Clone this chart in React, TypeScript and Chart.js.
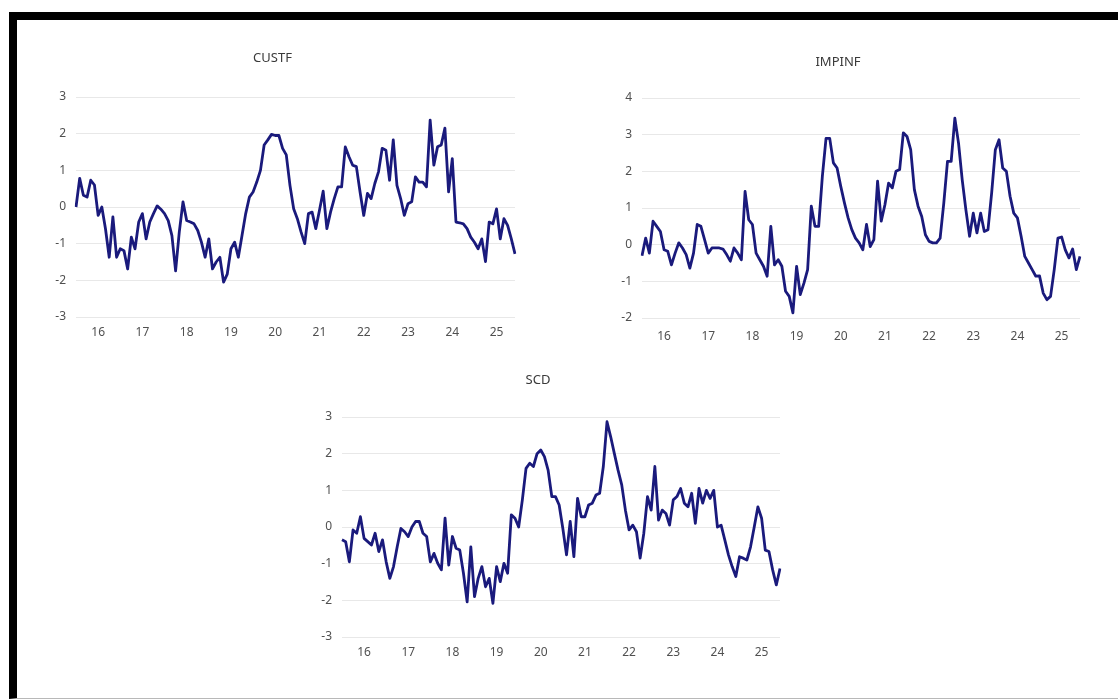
import React, { useEffect, useRef } from "react";
import { Chart, registerables } from "chart.js";

Chart.register(...registerables);

// Monthly observations, Jan 2016 .. Dec 2025
const YEARS = ["2016", "2017", "2018", "2019", "2020", "2021", "2022", "2023", "2024", "2025"];
const MONTHS = ["01", "02", "03", "04", "05", "06", "07", "08", "09", "10", "11", "12"];
const monthLabels: string[] = YEARS.flatMap((y) => MONTHS.map((m) => `${y}-${m}`));

const custf = [
  0.0, 0.78, 0.32, 0.27, 0.73, 0.6, -0.23, 0.0, -0.6, -1.37, -0.27, -1.37,
  -1.14, -1.19, -1.69, -0.82, -1.14, -0.41, -0.18, -0.87, -0.41, -0.18, 0.03, -0.06,
  -0.18, -0.37, -0.78, -1.74, -0.68, 0.14, -0.37, -0.41, -0.46, -0.64, -0.96, -1.37,
  -0.87, -1.69, -1.5, -1.37, -2.05, -1.83, -1.14, -0.96, -1.37, -0.78, -0.18, 0.27,
  0.41, 0.68, 1.0, 1.69, 1.83, 1.98, 1.95, 1.95, 1.6, 1.42, 0.59, -0.05,
  -0.32, -0.68, -1.0, -0.18, -0.14, -0.59, -0.09, 0.43, -0.59, -0.14, 0.23, 0.55,
  0.55, 1.64, 1.37, 1.14, 1.1, 0.41, -0.23, 0.37, 0.23, 0.64, 0.96, 1.6,
  1.55, 0.73, 1.83, 0.59, 0.23, -0.23, 0.09, 0.14, 0.82, 0.68, 0.68, 0.55,
  2.37, 1.14, 1.64, 1.69, 2.15, 0.41, 1.32, -0.41, -0.43, -0.46, -0.59, -0.82,
  -0.96, -1.14, -0.87, -1.49, -0.41, -0.46, -0.05, -0.87, -0.32, -0.5, -0.87, -1.28,
];

const impinf = [
  -0.3, 0.18, -0.23, 0.64, 0.5, 0.36, -0.14, -0.18, -0.55, -0.23, 0.05, -0.09,
  -0.27, -0.64, -0.23, 0.55, 0.5, 0.14, -0.23, -0.09, -0.09, -0.09, -0.12, -0.27,
  -0.45, -0.09, -0.23, -0.41, 1.45, 0.68, 0.55, -0.23, -0.41, -0.59, -0.86, 0.5,
  -0.55, -0.41, -0.59, -1.27, -1.41, -1.86, -0.59, -1.36, -1.05, -0.68, 1.05, 0.5,
  0.5, 1.86, 2.9, 2.9, 2.23, 2.09, 1.59, 1.14, 0.73, 0.41, 0.18, 0.05,
  -0.14, 0.55, -0.05, 0.14, 1.73, 0.64, 1.09, 1.68, 1.55, 2.0, 2.05, 3.05,
  2.95, 2.59, 1.5, 1.05, 0.77, 0.27, 0.09, 0.05, 0.05, 0.18, 1.14, 2.27,
  2.27, 3.45, 2.77, 1.77, 0.95, 0.23, 0.86, 0.32, 0.86, 0.36, 0.41, 1.41,
  2.59, 2.86, 2.09, 2.0, 1.32, 0.86, 0.73, 0.23, -0.32, -0.5, -0.68, -0.86,
  -0.85, -1.32, -1.5, -1.41, -0.68, 0.18, 0.21, -0.14, -0.36, -0.12, -0.68, -0.32,
];

const scd = [
  -0.35, -0.4, -0.95, -0.08, -0.17, 0.28, -0.31, -0.4, -0.49, -0.17, -0.67, -0.35,
  -0.95, -1.4, -1.08, -0.54, -0.04, -0.13, -0.26, 0.0, 0.15, 0.15, -0.17, -0.26,
  -0.95, -0.72, -0.99, -1.17, 0.24, -1.04, -0.26, -0.58, -0.63, -1.26, -2.04, -0.54,
  -1.9, -1.4, -1.08, -1.63, -1.4, -2.08, -1.08, -1.49, -0.99, -1.26, 0.33, 0.24,
  0.0, 0.74, 1.6, 1.74, 1.65, 2.0, 2.1, 1.92, 1.55, 0.83, 0.83, 0.6,
  -0.04, -0.76, 0.15, -0.81, 0.78, 0.28, 0.28, 0.6, 0.65, 0.87, 0.92, 1.65,
  2.87, 2.46, 2.0, 1.55, 1.15, 0.46, -0.08, 0.05, -0.13, -0.85, -0.17, 0.83,
  0.46, 1.65, 0.19, 0.46, 0.37, 0.05, 0.74, 0.83, 1.05, 0.65, 0.55, 0.92,
  0.1, 1.05, 0.65, 1.0, 0.78, 1.0, 0.0, 0.05, -0.35, -0.76, -1.08, -1.35,
  -0.81, -0.85, -0.9, -0.54, 0.0, 0.55, 0.24, -0.63, -0.67, -1.17, -1.58, -1.13,
];

const LINE_COLOR = "#1a1a7c";
const FONT = "'Noto Sans', 'Liberation Sans', sans-serif";

type PanelProps = {
  title: string;
  values: number[];
  yMin: number;
  yMax: number;
  left: number;
  top: number;
  width: number;
  height: number;
  titlePadTop: number;
  titlePadBottom: number;
  xTickPad: number;
};

function Panel(p: PanelProps) {
  const ref = useRef<HTMLCanvasElement | null>(null);
  useEffect(() => {
    if (!ref.current) return;
    const chart = new Chart(ref.current, {
      type: "line",
      data: {
        labels: monthLabels,
        datasets: [
          {
            data: p.values,
            borderColor: LINE_COLOR,
            borderWidth: 2.8,
            pointRadius: 0,
            tension: 0,
            fill: false,
            borderJoinStyle: "round",
          },
        ],
      },
      options: {
        responsive: false,
        animation: false,
        layout: { padding: { left: 0, right: 15, top: 0, bottom: 0 } },
        plugins: {
          legend: { display: false },
          tooltip: { enabled: false },
          title: {
            display: true,
            text: p.title,
            color: "#3a3a3a",
            font: { family: FONT, size: 13, weight: "normal", lineHeight: 1.2 },
            padding: { top: p.titlePadTop, bottom: p.titlePadBottom },
          },
        },
        scales: {
          x: {
            type: "category",
            offset: false,
            grid: { display: false, drawTicks: false },
            border: { display: false },
            ticks: {
              autoSkip: false,
              maxRotation: 0,
              minRotation: 0,
              padding: p.xTickPad,
              color: "#505050",
              font: { family: FONT, size: 12, lineHeight: 1.2 },
              callback: function (this: any, value: any) {
                const lab: string = this.getLabelForValue(value);
                return lab.endsWith("-07") ? lab.slice(2, 4) : null;
              },
            },
            afterFit: (scale: any) => {
              scale.height = 35;
            },
          },
          y: {
            min: p.yMin,
            max: p.yMax,
            grid: { color: "#e8e8e8", lineWidth: 1, drawTicks: false },
            border: { display: false },
            ticks: {
              stepSize: 1,
              padding: 10,
              color: "#505050",
              font: { family: FONT, size: 12 },
            },
            afterFit: (scale: any) => {
              scale.width = 46;
            },
          },
        },
      },
    });
    return () => chart.destroy();
  }, []);
  return (
    <canvas
      ref={ref}
      width={p.width}
      height={p.height}
      style={{ position: "absolute", left: p.left, top: p.top, width: p.width, height: p.height }}
    />
  );
}

export default function App() {
  return (
    <div style={{ position: "absolute", left: 0, top: 0, width: 1118, height: 700, background: "#fff", overflow: "hidden" }}>
      <div
        style={{
          position: "absolute",
          left: 9,
          top: 12,
          width: 1120,
          height: 687,
          boxSizing: "border-box",
          borderLeft: "8px solid #000",
          borderTop: "8px solid #000",
          borderBottom: "1px solid #b8b8b8",
        }}
      />
      <Panel title="CUSTF" values={custf} yMin={-3} yMax={3} left={30} top={40} width={500} height={312}
        titlePadTop={10} titlePadBottom={31.4} xTickPad={8.8} />
      <Panel title="IMPINF" values={impinf} yMin={-2} yMax={4} left={596} top={40} width={499} height={313}
        titlePadTop={14} titlePadBottom={28.4} xTickPad={11.8} />
      <Panel title="SCD" values={scd} yMin={-3} yMax={3} left={296} top={360} width={499} height={312}
        titlePadTop={12} titlePadBottom={29.4} xTickPad={8.8} />
    </div>
  );
}
